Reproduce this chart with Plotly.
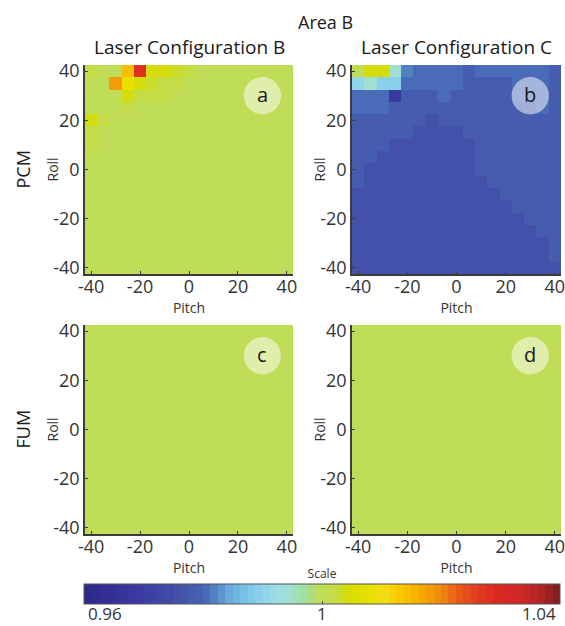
import plotly.graph_objects as go

# ---------------- data ----------------
pitch = [-40, -35, -30, -25, -20, -15, -10, -5, 0, 5, 10, 15, 20, 25, 30, 35, 40]
roll = [40, 35, 30, 25, 20, 15, 10, 5, 0, -5, -10, -15, -20, -25, -30, -35, -40]
tick_vals = [-40, -20, 0, 20, 40]
tick_text = ["-40", "-20", "0", "20", "40"]
scale_min, scale_max = 0.96, 1.04
scale_ticks = [0.96, 1.0, 1.04]
scale_labels = ["0.96", "1", "1.04"]

# PCM, Laser Configuration B (rows: roll 40 -> -40, cols: pitch -40 -> 40)
pcm_b = [
    [1.002, 1.0, 1.0, 1.0144, 1.028, 1.0048, 1.0048, 1.0032, 1.002, 1.0, 1.0, 1.0, 1.0, 1.0, 1.0, 1.0, 1.0],
    [1.0, 1.0, 1.0176, 1.008, 1.0048, 1.0032, 1.002, 1.002, 1.0, 1.0, 1.0, 1.0, 1.0, 1.0, 1.0, 1.0, 1.0],
    [1.0, 1.0, 1.0, 1.0048, 1.002, 1.002, 1.002, 1.0, 1.0, 1.0, 1.0, 1.0, 1.0, 1.0, 1.0, 1.0, 1.0],
    [1.0, 1.0, 1.0, 1.002, 1.0, 1.0, 1.0, 1.0, 1.0, 1.0, 1.0, 1.0, 1.0, 1.0, 1.0, 1.0, 1.0],
    [1.004, 1.002, 1.0, 1.0, 1.0, 1.0, 1.0, 1.0, 1.0, 1.0, 1.0, 1.0, 1.0, 1.0, 1.0, 1.0, 1.0],
    [1.002, 1.0, 1.0, 1.0, 1.0, 1.0, 1.0, 1.0, 1.0, 1.0, 1.0, 1.0, 1.0, 1.0, 1.0, 1.0, 1.0],
    [1.002, 1.0, 1.0, 1.0, 1.0, 1.0, 1.0, 1.0, 1.0, 1.0, 1.0, 1.0, 1.0, 1.0, 1.0, 1.0, 1.0],
    [1.0, 1.0, 1.0, 1.0, 1.0, 1.0, 1.0, 1.0, 1.0, 1.0, 1.0, 1.0, 1.0, 1.0, 1.0, 1.0, 1.0],
    [1.0, 1.0, 1.0, 1.0, 1.0, 1.0, 1.0, 1.0, 1.0, 1.0, 1.0, 1.0, 1.0, 1.0, 1.0, 1.0, 1.0],
    [1.0, 1.0, 1.0, 1.0, 1.0, 1.0, 1.0, 1.0, 1.0, 1.0, 1.0, 1.0, 1.0, 1.0, 1.0, 1.0, 1.0],
    [1.0, 1.0, 1.0, 1.0, 1.0, 1.0, 1.0, 1.0, 1.0, 1.0, 1.0, 1.0, 1.0, 1.0, 1.0, 1.0, 1.0],
    [1.0, 1.0, 1.0, 1.0, 1.0, 1.0, 1.0, 1.0, 1.0, 1.0, 1.0, 1.0, 1.0, 1.0, 1.0, 1.0, 1.0],
    [1.0, 1.0, 1.0, 1.0, 1.0, 1.0, 1.0, 1.0, 1.0, 1.0, 1.0, 1.0, 1.0, 1.0, 1.0, 1.0, 1.0],
    [1.0, 1.0, 1.0, 1.0, 1.0, 1.0, 1.0, 1.0, 1.0, 1.0, 1.0, 1.0, 1.0, 1.0, 1.0, 1.0, 1.0],
    [1.0, 1.0, 1.0, 1.0, 1.0, 1.0, 1.0, 1.0, 1.0, 1.0, 1.0, 1.0, 1.0, 1.0, 1.0, 1.0, 1.0],
    [1.0, 1.0, 1.0, 1.0, 1.0, 1.0, 1.0, 1.0, 1.0, 1.0, 1.0, 1.0, 1.0, 1.0, 1.0, 1.0, 1.0],
    [1.0, 1.0, 1.0, 1.0, 1.0, 1.0, 1.0, 1.0, 1.0, 1.0, 1.0, 1.0, 1.0, 1.0, 1.0, 1.0, 1.0],
]

# PCM, Laser Configuration C
pcm_c = [
    [1.0, 1.0048, 1.0048, 0.9944, 0.9824, 0.9808, 0.9808, 0.9808, 0.98, 0.9784, 0.98, 0.98, 0.98, 0.98, 0.98, 0.98, 0.9784],
    [0.9904, 0.9944, 0.9888, 0.9888, 0.98, 0.98, 0.98, 0.98, 0.98, 0.9784, 0.9784, 0.9784, 0.9784, 0.98, 0.98, 0.98, 0.9784],
    [0.9808, 0.9808, 0.9808, 0.9696, 0.9784, 0.9784, 0.9784, 0.98, 0.9784, 0.9784, 0.9784, 0.9784, 0.9784, 0.98, 0.98, 0.98, 0.9784],
    [0.9808, 0.98, 0.98, 0.9784, 0.9784, 0.9784, 0.9784, 0.9784, 0.9784, 0.9784, 0.9784, 0.9784, 0.9784, 0.9784, 0.9784, 0.98, 0.9784],
    [0.9784, 0.9784, 0.9784, 0.9784, 0.9784, 0.9784, 0.976, 0.9784, 0.9784, 0.9784, 0.9784, 0.9784, 0.9784, 0.9784, 0.9784, 0.9784, 0.9784],
    [0.9784, 0.9784, 0.9784, 0.9784, 0.9784, 0.976, 0.976, 0.976, 0.976, 0.9784, 0.9784, 0.9784, 0.9784, 0.9784, 0.9784, 0.9784, 0.9784],
    [0.9784, 0.9784, 0.9784, 0.976, 0.976, 0.976, 0.976, 0.976, 0.976, 0.976, 0.9784, 0.9784, 0.9784, 0.9784, 0.9784, 0.9784, 0.9784],
    [0.9784, 0.9784, 0.976, 0.976, 0.976, 0.976, 0.976, 0.976, 0.976, 0.976, 0.9784, 0.9784, 0.9784, 0.9784, 0.9784, 0.9784, 0.9784],
    [0.9784, 0.976, 0.976, 0.976, 0.976, 0.976, 0.976, 0.976, 0.976, 0.976, 0.9784, 0.9784, 0.9784, 0.9784, 0.9784, 0.9784, 0.9784],
    [0.9784, 0.976, 0.976, 0.976, 0.976, 0.976, 0.976, 0.976, 0.976, 0.976, 0.976, 0.9784, 0.9784, 0.9784, 0.9784, 0.9784, 0.9784],
    [0.976, 0.976, 0.976, 0.976, 0.976, 0.976, 0.976, 0.976, 0.976, 0.976, 0.976, 0.976, 0.9784, 0.9784, 0.9784, 0.9784, 0.9784],
    [0.976, 0.976, 0.976, 0.976, 0.976, 0.976, 0.976, 0.976, 0.976, 0.976, 0.976, 0.976, 0.976, 0.9784, 0.9784, 0.9784, 0.9784],
    [0.976, 0.976, 0.976, 0.976, 0.976, 0.976, 0.976, 0.976, 0.976, 0.976, 0.976, 0.976, 0.976, 0.976, 0.9784, 0.9784, 0.9784],
    [0.976, 0.976, 0.976, 0.976, 0.976, 0.976, 0.976, 0.976, 0.976, 0.976, 0.976, 0.976, 0.976, 0.976, 0.976, 0.9784, 0.9784],
    [0.976, 0.976, 0.976, 0.976, 0.976, 0.976, 0.976, 0.976, 0.976, 0.976, 0.976, 0.976, 0.976, 0.976, 0.976, 0.976, 0.9784],
    [0.976, 0.976, 0.976, 0.976, 0.976, 0.976, 0.976, 0.976, 0.976, 0.976, 0.976, 0.976, 0.976, 0.976, 0.976, 0.976, 0.9784],
    [0.976, 0.976, 0.976, 0.976, 0.976, 0.976, 0.976, 0.976, 0.976, 0.976, 0.976, 0.976, 0.976, 0.976, 0.976, 0.976, 0.976],
]

# FUM, Laser Configuration B (uniform)
fum_b = [
    [1.0, 1.0, 1.0, 1.0, 1.0, 1.0, 1.0, 1.0, 1.0, 1.0, 1.0, 1.0, 1.0, 1.0, 1.0, 1.0, 1.0],
    [1.0, 1.0, 1.0, 1.0, 1.0, 1.0, 1.0, 1.0, 1.0, 1.0, 1.0, 1.0, 1.0, 1.0, 1.0, 1.0, 1.0],
    [1.0, 1.0, 1.0, 1.0, 1.0, 1.0, 1.0, 1.0, 1.0, 1.0, 1.0, 1.0, 1.0, 1.0, 1.0, 1.0, 1.0],
    [1.0, 1.0, 1.0, 1.0, 1.0, 1.0, 1.0, 1.0, 1.0, 1.0, 1.0, 1.0, 1.0, 1.0, 1.0, 1.0, 1.0],
    [1.0, 1.0, 1.0, 1.0, 1.0, 1.0, 1.0, 1.0, 1.0, 1.0, 1.0, 1.0, 1.0, 1.0, 1.0, 1.0, 1.0],
    [1.0, 1.0, 1.0, 1.0, 1.0, 1.0, 1.0, 1.0, 1.0, 1.0, 1.0, 1.0, 1.0, 1.0, 1.0, 1.0, 1.0],
    [1.0, 1.0, 1.0, 1.0, 1.0, 1.0, 1.0, 1.0, 1.0, 1.0, 1.0, 1.0, 1.0, 1.0, 1.0, 1.0, 1.0],
    [1.0, 1.0, 1.0, 1.0, 1.0, 1.0, 1.0, 1.0, 1.0, 1.0, 1.0, 1.0, 1.0, 1.0, 1.0, 1.0, 1.0],
    [1.0, 1.0, 1.0, 1.0, 1.0, 1.0, 1.0, 1.0, 1.0, 1.0, 1.0, 1.0, 1.0, 1.0, 1.0, 1.0, 1.0],
    [1.0, 1.0, 1.0, 1.0, 1.0, 1.0, 1.0, 1.0, 1.0, 1.0, 1.0, 1.0, 1.0, 1.0, 1.0, 1.0, 1.0],
    [1.0, 1.0, 1.0, 1.0, 1.0, 1.0, 1.0, 1.0, 1.0, 1.0, 1.0, 1.0, 1.0, 1.0, 1.0, 1.0, 1.0],
    [1.0, 1.0, 1.0, 1.0, 1.0, 1.0, 1.0, 1.0, 1.0, 1.0, 1.0, 1.0, 1.0, 1.0, 1.0, 1.0, 1.0],
    [1.0, 1.0, 1.0, 1.0, 1.0, 1.0, 1.0, 1.0, 1.0, 1.0, 1.0, 1.0, 1.0, 1.0, 1.0, 1.0, 1.0],
    [1.0, 1.0, 1.0, 1.0, 1.0, 1.0, 1.0, 1.0, 1.0, 1.0, 1.0, 1.0, 1.0, 1.0, 1.0, 1.0, 1.0],
    [1.0, 1.0, 1.0, 1.0, 1.0, 1.0, 1.0, 1.0, 1.0, 1.0, 1.0, 1.0, 1.0, 1.0, 1.0, 1.0, 1.0],
    [1.0, 1.0, 1.0, 1.0, 1.0, 1.0, 1.0, 1.0, 1.0, 1.0, 1.0, 1.0, 1.0, 1.0, 1.0, 1.0, 1.0],
    [1.0, 1.0, 1.0, 1.0, 1.0, 1.0, 1.0, 1.0, 1.0, 1.0, 1.0, 1.0, 1.0, 1.0, 1.0, 1.0, 1.0],
]

# FUM, Laser Configuration C (uniform)
fum_c = [
    [1.0, 1.0, 1.0, 1.0, 1.0, 1.0, 1.0, 1.0, 1.0, 1.0, 1.0, 1.0, 1.0, 1.0, 1.0, 1.0, 1.0],
    [1.0, 1.0, 1.0, 1.0, 1.0, 1.0, 1.0, 1.0, 1.0, 1.0, 1.0, 1.0, 1.0, 1.0, 1.0, 1.0, 1.0],
    [1.0, 1.0, 1.0, 1.0, 1.0, 1.0, 1.0, 1.0, 1.0, 1.0, 1.0, 1.0, 1.0, 1.0, 1.0, 1.0, 1.0],
    [1.0, 1.0, 1.0, 1.0, 1.0, 1.0, 1.0, 1.0, 1.0, 1.0, 1.0, 1.0, 1.0, 1.0, 1.0, 1.0, 1.0],
    [1.0, 1.0, 1.0, 1.0, 1.0, 1.0, 1.0, 1.0, 1.0, 1.0, 1.0, 1.0, 1.0, 1.0, 1.0, 1.0, 1.0],
    [1.0, 1.0, 1.0, 1.0, 1.0, 1.0, 1.0, 1.0, 1.0, 1.0, 1.0, 1.0, 1.0, 1.0, 1.0, 1.0, 1.0],
    [1.0, 1.0, 1.0, 1.0, 1.0, 1.0, 1.0, 1.0, 1.0, 1.0, 1.0, 1.0, 1.0, 1.0, 1.0, 1.0, 1.0],
    [1.0, 1.0, 1.0, 1.0, 1.0, 1.0, 1.0, 1.0, 1.0, 1.0, 1.0, 1.0, 1.0, 1.0, 1.0, 1.0, 1.0],
    [1.0, 1.0, 1.0, 1.0, 1.0, 1.0, 1.0, 1.0, 1.0, 1.0, 1.0, 1.0, 1.0, 1.0, 1.0, 1.0, 1.0],
    [1.0, 1.0, 1.0, 1.0, 1.0, 1.0, 1.0, 1.0, 1.0, 1.0, 1.0, 1.0, 1.0, 1.0, 1.0, 1.0, 1.0],
    [1.0, 1.0, 1.0, 1.0, 1.0, 1.0, 1.0, 1.0, 1.0, 1.0, 1.0, 1.0, 1.0, 1.0, 1.0, 1.0, 1.0],
    [1.0, 1.0, 1.0, 1.0, 1.0, 1.0, 1.0, 1.0, 1.0, 1.0, 1.0, 1.0, 1.0, 1.0, 1.0, 1.0, 1.0],
    [1.0, 1.0, 1.0, 1.0, 1.0, 1.0, 1.0, 1.0, 1.0, 1.0, 1.0, 1.0, 1.0, 1.0, 1.0, 1.0, 1.0],
    [1.0, 1.0, 1.0, 1.0, 1.0, 1.0, 1.0, 1.0, 1.0, 1.0, 1.0, 1.0, 1.0, 1.0, 1.0, 1.0, 1.0],
    [1.0, 1.0, 1.0, 1.0, 1.0, 1.0, 1.0, 1.0, 1.0, 1.0, 1.0, 1.0, 1.0, 1.0, 1.0, 1.0, 1.0],
    [1.0, 1.0, 1.0, 1.0, 1.0, 1.0, 1.0, 1.0, 1.0, 1.0, 1.0, 1.0, 1.0, 1.0, 1.0, 1.0, 1.0],
    [1.0, 1.0, 1.0, 1.0, 1.0, 1.0, 1.0, 1.0, 1.0, 1.0, 1.0, 1.0, 1.0, 1.0, 1.0, 1.0, 1.0],
]

panel_letters = ["a", "b", "c", "d"]
col_titles = ["Laser Configuration B", "Laser Configuration C"]
row_titles = ["PCM", "FUM"]

# ---------------- colour map (64 discrete steps) ----------------
anchors = [
    (0.00, "#2c2888"), (0.06, "#343098"), (0.12, "#3a3ca2"), (0.17, "#4048a6"),
    (0.21, "#4456ac"), (0.24, "#4660b2"), (0.26, "#4a6cb8"), (0.28, "#5888c8"),
    (0.30, "#66a4da"), (0.33, "#72c0e6"), (0.37, "#8cd0ec"), (0.41, "#a0dce4"),
    (0.435, "#a0e0cc"), (0.46, "#a2e0a6"), (0.475, "#acdc80"), (0.488, "#bfdd57"),
    (0.512, "#bfdd57"), (0.535, "#cadc34"), (0.56, "#d8dc00"), (0.60, "#e8e000"),
    (0.63, "#f4dc18"), (0.66, "#f8cc00"), (0.71, "#f8a800"), (0.75, "#f08810"),
    (0.79, "#e85818"), (0.83, "#e03820"), (0.87, "#dc2820"), (0.92, "#cc2828"),
    (0.96, "#ae2424"), (1.00, "#7a1e1e"),
]


def hex2rgb(h):
    h = h.lstrip("#")
    return tuple(int(h[i:i + 2], 16) for i in (0, 2, 4))


def sample(f):
    for (f0, c0), (f1, c1) in zip(anchors[:-1], anchors[1:]):
        if f0 <= f <= f1:
            t = 0 if f1 == f0 else (f - f0) / (f1 - f0)
            a, b = hex2rgb(c0), hex2rgb(c1)
            return "rgb(%d,%d,%d)" % tuple(round(a[k] + (b[k] - a[k]) * t) for k in range(3))
    return anchors[-1][1]


NSTEP = 64
colorscale = []
for i in range(NSTEP):
    c = sample((i + 0.5) / NSTEP)
    colorscale.append([i / NSTEP, c])
    colorscale.append([(i + 1) / NSTEP, c])

# ---------------- layout geometry ----------------
W, H = 565, 626
FONT = "Open Sans, Lato, DejaVu Sans, sans-serif"
TXT = "#333333"
DARK = "#1a1a1a"


def px_x(x):
    return x / W


def px_y(y):
    return 1 - y / H


xdoms = [(px_x(85), px_x(293)), (px_x(352), px_x(561))]
ydoms = [(px_y(274), px_y(65)), (px_y(534), px_y(325))]
cbar_left, cbar_right = 84, 560

fig = go.Figure()
panels = [pcm_b, pcm_c, fum_b, fum_c]
layout_axes = {}
shapes = []
annotations = []
for idx, z in enumerate(panels):
    r, c = divmod(idx, 2)
    n = idx + 1
    xa = "x" if n == 1 else "x%d" % n
    ya = "y" if n == 1 else "y%d" % n
    fig.add_trace(go.Heatmap(
        x=pitch, y=roll, z=z, coloraxis="coloraxis",
        xaxis=xa, yaxis=ya, hoverinfo="x+y+z",
    ))
    axcommon = dict(
        range=[-42.5, 42.5], tickvals=tick_vals, ticktext=tick_text,
        showgrid=False, zeroline=False,
        showline=True, linecolor="#3c3c3c", linewidth=1.5, mirror=False,
        ticks="inside", ticklen=3, tickwidth=1, tickcolor="#3c3c3c",
        tickfont=dict(size=18, color=TXT, family=FONT),
        ticklabeloverflow="allow",
    )
    layout_axes["xaxis" if n == 1 else "xaxis%d" % n] = dict(
        axcommon, domain=list(xdoms[c]), anchor=ya, ticklabelstandoff=-4,
        title=dict(text="Pitch", font=dict(size=14, color=TXT, family=FONT), standoff=0),
    )
    layout_axes["yaxis" if n == 1 else "yaxis%d" % n] = dict(
        axcommon, domain=list(ydoms[r]), anchor=xa,
    )
    # y-axis title "Roll", placed close to the tick labels as in the reference
    annotations.append(dict(
        x=px_x(52 if c == 0 else 319), y=(ydoms[r][0] + ydoms[r][1]) / 2,
        xref="paper", yref="paper", text="Roll", showarrow=False, textangle=-90,
        xanchor="center", yanchor="middle",
        font=dict(size=14, color=TXT, family=FONT),
    ))
    shapes.append(dict(
        type="circle", xref=xa, yref=ya, x0=30 - 7.6, x1=30 + 7.6, y0=30 - 7.6, y1=30 + 7.6,
        fillcolor="rgba(255,255,255,0.5)", line=dict(width=0), layer="above",
    ))
    annotations.append(dict(
        x=30, y=30, xref=xa, yref=ya, text=panel_letters[idx], showarrow=False,
        xanchor="center", yanchor="middle",
        font=dict(size=20, color=DARK, family=FONT), yshift=1,
    ))

annotations.append(dict(x=px_x(325), y=px_y(22), xref="paper", yref="paper", text="Area B",
                        xanchor="center", yanchor="middle",
                        showarrow=False, font=dict(size=18, color=DARK, family=FONT)))
for c, t in enumerate(col_titles):
    annotations.append(dict(x=(xdoms[c][0] + xdoms[c][1]) / 2, y=px_y(47), xref="paper", yref="paper",
                            text=t, showarrow=False, xanchor="center", yanchor="middle",
                            font=dict(size=19, color=DARK, family=FONT)))
for r, t in enumerate(row_titles):
    annotations.append(dict(x=px_x(22), y=(ydoms[r][0] + ydoms[r][1]) / 2, xref="paper", yref="paper",
                            text=t, showarrow=False, textangle=-90, xanchor="center", yanchor="middle",
                            font=dict(size=18, color=DARK, family=FONT)))

# colour-bar labels (end labels kept inside the bar ends, as in the reference)
anchors_x = ["left", "center", "right"]
for v, lab, xa_ in zip(scale_ticks, scale_labels, anchors_x):
    frac = (v - scale_min) / (scale_max - scale_min)
    xpix = cbar_left + frac * (cbar_right - cbar_left)
    annotations.append(dict(
        x=px_x(xpix), y=px_y(613), xref="paper", yref="paper", text=lab, showarrow=False,
        xanchor=xa_, yanchor="middle", xshift=(2 if xa_ == "left" else (-2 if xa_ == "right" else 0)),
        font=dict(size=17, color=TXT, family=FONT),
    ))

fig.update_layout(
    width=W, height=H,
    margin=dict(l=0, r=0, t=0, b=0, autoexpand=False),
    paper_bgcolor="white", plot_bgcolor="white",
    font=dict(family=FONT, color=TXT),
    shapes=shapes, annotations=annotations,
    coloraxis=dict(
        colorscale=colorscale, cmin=scale_min, cmax=scale_max,
        colorbar=dict(
            orientation="h", x=px_x((cbar_left + cbar_right) / 2), xanchor="center",
            y=px_y(567), yanchor="top",
            len=cbar_right - cbar_left, lenmode="pixels", thickness=20, thicknessmode="pixels",
            outlinewidth=1, outlinecolor="#555555", xpad=0, ypad=0,
            tickvals=[1.0], ticks="inside", ticklen=3, tickcolor="#444444",
            showticklabels=False,
            title=dict(text="Scale", side="top", font=dict(size=12, color=TXT, family=FONT)),
        ),
    ),
    showlegend=False,
    **layout_axes,
)

fig.write_html("out.html", config={"displayModeBar": False},
               post_script="document.body.style.margin='0px';")
